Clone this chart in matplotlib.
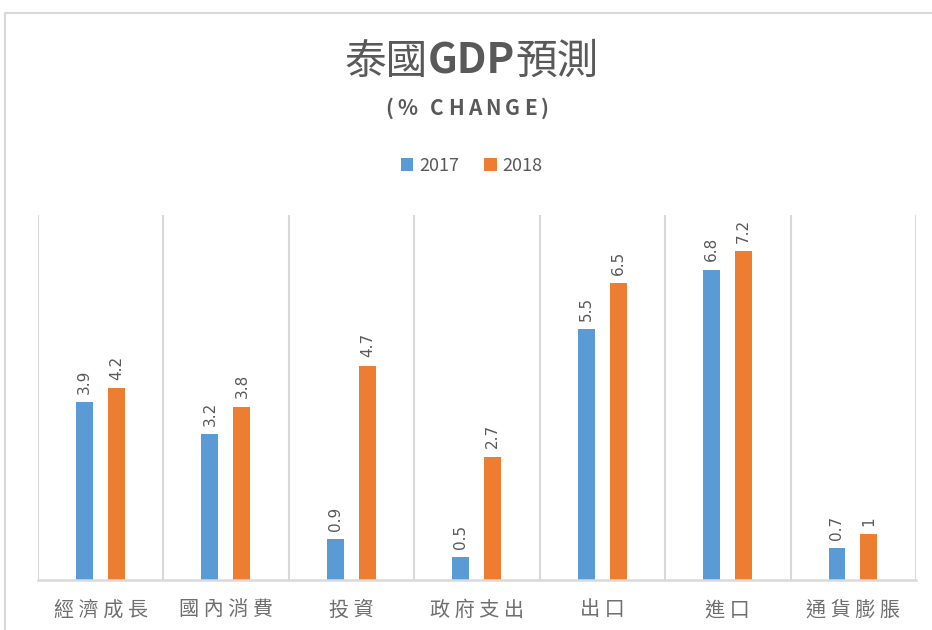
import matplotlib
matplotlib.use('Agg')
import matplotlib.pyplot as plt
import numpy as np
from matplotlib.patches import Rectangle, Patch

plt.rcParams['font.family'] = ['Noto Sans CJK TC', 'DejaVu Sans']

# Data
categories = ['經濟成長', '國內消費', '投資', '政府支出', '出口', '進口', '通貨膨脹']
years = ['2017', '2018']
values_2017 = [3.9, 3.2, 0.9, 0.5, 5.5, 6.8, 0.7]
values_2018 = [4.2, 3.8, 4.7, 2.7, 6.5, 7.2, 1]

blue = '#5B9BD5'
orange = '#ED7D31'
grey_txt = '#595959'
grid_col = '#D9D9D9'

fig = plt.figure(figsize=(9.32, 6.30), dpi=100)

# chart frame (clipped on right / bottom like the screenshot)
fig.patches.append(Rectangle((5 / 932, -0.1), 1.2, (630 - 13) / 630 + 0.1,
                             transform=fig.transFigure, fill=False,
                             edgecolor=grid_col, linewidth=1.5))

ax = fig.add_axes([38 / 932, 50 / 630, 878 / 932, 365 / 630])

x = np.arange(len(categories))
w = 0.135
b1 = ax.bar(x - 0.13, values_2017, w, color=blue, label=years[0])
b2 = ax.bar(x + 0.125, values_2018, w, color=orange, label=years[1])

# value labels, rotated
for bars, vals in [(b1, values_2017), (b2, values_2018)]:
    for rect, v in zip(bars, vals):
        lbl = f'{v:g}'
        ax.annotate(lbl, (rect.get_x() + rect.get_width() / 2, rect.get_height()),
                    xytext=(0, 6), textcoords='offset points',
                    rotation=90, ha='center', va='bottom',
                    fontsize=11, color=grey_txt, family='DejaVu Sans')

ax.set_xlim(-0.5, len(categories) - 0.5)
ax.set_ylim(0, 8)
ax.vlines(np.arange(len(categories) + 1) - 0.5, 0, 8, color=grid_col,
          linewidth=1.5, zorder=0)
for s in ['top', 'right', 'left']:
    ax.spines[s].set_visible(False)
ax.spines['bottom'].set_color(grid_col)
ax.spines['bottom'].set_linewidth(1.8)
ax.set_yticks([])
ax.set_xticks(x)
ax.set_xticklabels([' '.join(c) for c in categories],
                   fontsize=14.5, color='#6F6F6F')
ax.tick_params(axis='x', length=0, pad=14)

# title, with bold GDP
t1 = fig.text(0.370, 0.883, '泰國', fontsize=30, color=grey_txt, va='baseline')
t2 = ax.annotate('GDP', xy=(1, 0), xycoords=t1, va='bottom', ha='left',
                 fontsize=30, fontweight='bold', color=grey_txt)
t3 = ax.annotate('預測', xy=(1, 0), xycoords=t2, va='bottom', ha='left',
                 fontsize=30, color=grey_txt)

# subtitle with letter spacing
sub = '(% CHANGE)'
prev = fig.text(0.413, 0.818, sub[0], fontsize=15, fontweight='bold',
                color=grey_txt, va='baseline')
for ch in sub[1:]:
    prev = ax.annotate(ch, xy=(1, 0), xycoords=prev, xytext=(3.0, 0),
                       textcoords='offset points', va='bottom', ha='left',
                       fontsize=15, fontweight='bold', color=grey_txt)

leg = fig.legend(handles=[Patch(facecolor=blue, label=years[0]),
                          Patch(facecolor=orange, label=years[1])],
                 loc='center', bbox_to_anchor=(0.506, 0.737), ncol=2,
                 frameon=False, fontsize=13, handlelength=0.7,
                 handleheight=0.7, handletextpad=0.3, columnspacing=1.4)
for t in leg.get_texts():
    t.set_color(grey_txt)

fig.savefig('out.png', dpi=100, facecolor='white')
